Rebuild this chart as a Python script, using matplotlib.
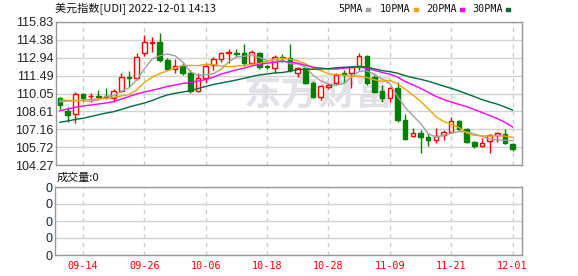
import numpy as np
import matplotlib
matplotlib.use('Agg')
import matplotlib.pyplot as plt
from matplotlib.patches import Rectangle

# trading days shown on the chart
dates = ['09-09', '09-12', '09-13', '09-14', '09-15', '09-16', '09-19', '09-20', '09-21', '09-22',
         '09-23', '09-26', '09-27', '09-28', '09-29', '09-30', '10-03', '10-04', '10-05', '10-06',
         '10-07', '10-10', '10-11', '10-12', '10-13', '10-14', '10-17', '10-18', '10-19', '10-20',
         '10-21', '10-24', '10-25', '10-26', '10-27', '10-28', '10-31', '11-01', '11-02', '11-03',
         '11-04', '11-07', '11-08', '11-09', '11-10', '11-11', '11-14', '11-15', '11-16', '11-17',
         '11-18', '11-21', '11-22', '11-23', '11-24', '11-25', '11-28', '11-29', '11-30', '12-01']
tick_dates = ['09-14', '09-26', '10-06', '10-18', '10-28', '11-09', '11-21', '12-01']

open_ = [109.66, 108.66, 108.39, 110.01, 109.82, 109.85, 109.83, 109.70, 110.28, 111.40,
         111.28, 113.30, 114.17, 114.19, 112.76, 112.03, 112.30, 111.68, 110.28, 111.28,
         112.35, 112.81, 113.34, 113.32, 113.30, 112.49, 113.30, 112.24, 112.09, 112.97,
         112.90, 111.73, 112.09, 110.92, 109.74, 110.55, 110.87, 111.70, 111.68, 112.22,
         113.08, 111.36, 110.28, 109.66, 110.47, 107.91, 106.61, 106.83, 106.51, 106.29,
         106.70, 106.96, 107.83, 107.18, 106.15, 105.83, 106.23, 106.70, 106.78, 105.97]
high = [109.79, 108.98, 110.20, 110.07, 110.10, 110.33, 110.50, 110.39, 111.73, 111.90,
        113.30, 114.78, 114.64, 114.92, 112.90, 112.80, 112.54, 111.95, 111.68, 112.54,
        113.02, 113.43, 113.65, 113.62, 114.05, 113.55, 113.43, 112.35, 113.16, 113.22,
        114.05, 112.22, 112.22, 111.08, 110.74, 110.87, 111.73, 111.95, 112.25, 113.30,
        113.16, 111.55, 110.74, 110.55, 111.00, 108.39, 107.24, 107.10, 106.83, 107.24,
        107.10, 108.13, 107.90, 107.29, 106.18, 106.43, 106.78, 106.96, 107.16, 106.02]
low = [108.77, 107.77, 107.70, 109.39, 109.40, 109.60, 109.60, 109.39, 110.20, 110.60,
       111.14, 113.08, 113.43, 112.62, 111.95, 111.68, 111.55, 110.12, 110.20, 110.87,
       111.95, 112.62, 112.49, 112.98, 112.27, 112.40, 112.00, 112.03, 111.68, 112.62,
       111.81, 111.41, 110.82, 109.66, 109.52, 110.40, 110.74, 110.87, 110.47, 111.95,
       110.74, 110.07, 109.40, 109.39, 107.77, 106.29, 106.51, 105.26, 105.81, 106.07,
       106.29, 106.83, 107.10, 106.07, 105.62, 105.70, 105.26, 106.15, 105.95, 105.43]
close = [109.12, 108.31, 110.01, 109.69, 109.87, 109.80, 109.78, 110.28, 111.36, 111.34,
         113.03, 114.19, 114.21, 112.76, 112.03, 112.30, 111.68, 110.28, 111.28, 112.27,
         112.81, 113.30, 113.40, 113.28, 112.49, 113.43, 112.22, 112.20, 112.98, 112.93,
         111.95, 112.09, 110.92, 109.74, 110.66, 110.74, 111.55, 111.66, 112.22, 113.08,
         110.87, 110.20, 109.66, 110.47, 107.91, 106.37, 106.88, 106.56, 106.29, 106.61,
         106.96, 107.83, 107.15, 106.15, 105.81, 106.02, 106.70, 106.83, 106.02, 105.54]

ma5 = [109.52, 109.50, 109.48, 109.47, 109.40, 109.54, 109.83, 109.88, 110.22, 110.51,
       111.16, 112.04, 112.83, 113.11, 113.24, 113.10, 112.60, 111.81, 111.51, 111.56,
       111.66, 111.99, 112.61, 113.01, 113.06, 113.18, 112.96, 112.72, 112.66, 112.75,
       112.46, 112.43, 112.17, 111.53, 111.07, 110.83, 110.72, 110.87, 111.37, 111.85,
       111.88, 111.61, 111.21, 110.86, 109.82, 108.92, 108.26, 107.64, 106.80, 106.54,
       106.66, 106.85, 106.97, 106.94, 106.78, 106.59, 106.37, 106.30, 106.28, 106.22]
ma10 = [109.39, 109.42, 109.48, 109.52, 109.56, 109.60, 109.65, 109.74, 109.85, 109.96,
        110.35, 110.94, 111.36, 111.66, 111.88, 112.13, 112.32, 112.32, 112.31, 112.40,
        112.38, 112.29, 112.21, 112.26, 112.31, 112.42, 112.48, 112.67, 112.84, 112.90,
        112.82, 112.70, 112.45, 112.10, 111.91, 111.64, 111.58, 111.52, 111.45, 111.46,
        111.35, 111.16, 111.04, 111.11, 110.84, 110.40, 109.93, 109.42, 108.83, 108.18,
        107.79, 107.55, 107.30, 106.87, 106.66, 106.63, 106.61, 106.64, 106.61, 106.50]
ma20 = [108.66, 108.80, 108.93, 109.04, 109.12, 109.20, 109.28, 109.40, 109.60, 109.81,
        110.01, 110.17, 110.31, 110.45, 110.62, 110.74, 110.86, 110.94, 111.06, 111.18,
        111.37, 111.62, 111.79, 111.96, 112.10, 112.28, 112.40, 112.50, 112.58, 112.65,
        112.60, 112.50, 112.33, 112.18, 112.11, 112.03, 112.03, 112.10, 112.15, 112.18,
        112.09, 111.93, 111.75, 111.61, 111.38, 111.02, 110.76, 110.47, 110.14, 109.82,
        109.57, 109.36, 109.17, 108.99, 108.75, 108.52, 108.27, 108.03, 107.72, 107.34]
ma30 = [107.72, 107.83, 107.95, 108.05, 108.19, 108.33, 108.47, 108.58, 108.76, 108.96,
        109.12, 109.28, 109.48, 109.73, 109.93, 110.07, 110.17, 110.28, 110.45, 110.62,
        110.78, 110.90, 111.02, 111.14, 111.28, 111.42, 111.55, 111.63, 111.71, 111.75,
        111.85, 111.98, 112.01, 112.01, 112.03, 112.06, 112.13, 112.17, 112.20, 112.25,
        112.18, 112.05, 111.90, 111.82, 111.69, 111.49, 111.33, 111.20, 111.04, 110.85,
        110.65, 110.47, 110.26, 110.03, 109.80, 109.56, 109.37, 109.19, 108.96, 108.71]

price_ticks = [104.27, 105.72, 107.16, 108.61, 110.05, 111.49, 112.94, 114.38, 115.83]
volume = [0] * len(dates)

RED = '#ff0000'
GREEN = '#008000'
GRID = '#d2d2d2'
FRAME = '#999999'
ma_colors = {'5PMA': '#a0a0a0', '10PMA': '#f5a300', '20PMA': '#ff00ff', '30PMA': '#006b3c'}

W, H = 578, 276
fig = plt.figure(figsize=(W / 100, H / 100), dpi=100)
ax = fig.add_axes([56 / W, 1 - 165 / H, 466 / W, 143 / H])
axv = fig.add_axes([55 / W, 1 - 255 / H, 467 / W, 68 / H])

x = np.arange(len(dates))
o = np.array(open_)
c = np.array(close)
up = c >= o
cols = np.where(up, RED, GREEN)
tick_idx = [dates.index(d) for d in tick_dates]

# candles
ax.vlines(x, low, high, colors=cols, lw=1, zorder=3)
ax.bar(x, np.abs(c - o), 0.6, bottom=np.minimum(o, c),
       color=np.where(up, 'white', GREEN), edgecolor=cols, lw=1, zorder=4)

# moving averages
for name, vals in zip(ma_colors, [ma5, ma10, ma20, ma30]):
    ax.plot(x, vals, color=ma_colors[name], lw=1, zorder=5)

# watermark
ax.text(0.565, 0.5, '东方财富', transform=ax.transAxes, fontsize=27, fontweight='bold',
        color='#e1e1e6', family=['Noto Sans CJK SC'], ha='center', va='center', zorder=1)

for a in (ax, axv):
    a.set_xlim(-0.52, 60.23)
    a.set_xticks(tick_idx)
    a.grid(axis='x', color='#cccccc', lw=1, ls=(0, (3, 3)))
    a.grid(axis='y', color=GRID, lw=1)
    a.set_axisbelow(True)
    for s in a.spines.values():
        s.set_color(FRAME)
        s.set_linewidth(1)
    a.tick_params(length=0)
axv.set_xlim(-0.65, 60.23)

ax.set_ylim(price_ticks[0], price_ticks[-1])
ax.set_yticks(price_ticks)
ax.set_yticklabels(['%.2f' % v for v in price_ticks], fontsize=9,
                   family='Liberation Sans', color='#222222')
ax.tick_params(axis='y', pad=2)
ax.set_xticklabels([])

# volume panel (all zero)
axv.bar(x, volume, 0.6, color=GREEN)
axv.set_ylim(0, 4)
axv.set_yticks(range(5))
axv.set_yticklabels(['0'] * 5, fontsize=9, family='Liberation Sans', color='#1c2440')
axv.tick_params(axis='y', pad=1.5)
axv.set_xticklabels(tick_dates, fontsize=7.3, family='DejaVu Sans Mono', color=RED)
axv.tick_params(axis='x', pad=4)

fig.text(57 / W, 1 - 178 / H, '成交量:%d' % sum(volume), fontsize=8,
         family=['Noto Sans CJK SC', 'DejaVu Sans'], va='center', color='#111111')

# title and legend
fig.text(55 / W, 1 - 9 / H, '美元指数[UDI] 2022-12-01 14:13', fontsize=8,
         family=['Noto Sans CJK SC', 'DejaVu Sans'], va='center', color='#111111')
leg_x = [338, 380, 426, 472]
for (name, col), lx in zip(ma_colors.items(), leg_x):
    t = fig.text(lx / W, 1 - 9 / H, name, fontsize=7.3, family='DejaVu Sans Mono',
                 va='center', color='#111111')
    mx = lx + 6.2 * len(name) + 3
    fig.patches.append(Rectangle((mx / W, 1 - 11 / H), 4 / W, 3 / H,
                                 transform=fig.transFigure, color=col))

fig.savefig('out.png', dpi=100)
